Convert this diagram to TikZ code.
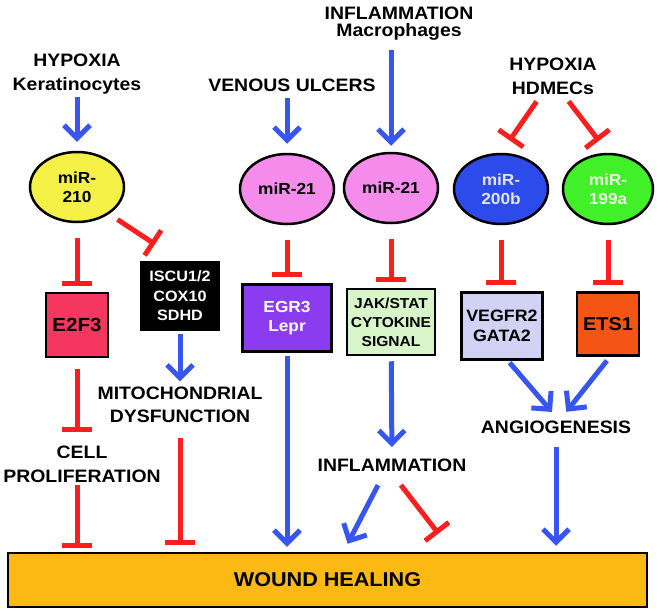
\documentclass[tikz,border=0pt]{standalone}
\usepackage{fontspec}
\setmainfont{Liberation Sans}[FakeStretch=1.08]
\usepackage[]{color}
\usepackage{tikz}
\usetikzlibrary{decorations,arrows,shapes,arrows.meta}

\definecolor{hblue}{RGB}{55,85,240}
\definecolor{hred}{RGB}{255,30,30}
\definecolor{cyellow}{RGB}{245,240,70}
\definecolor{cpink}{RGB}{245,140,235}
\definecolor{cblue}{RGB}{45,75,235}
\definecolor{cgreen}{RGB}{65,240,40}
\definecolor{ce2f}{RGB}{245,55,95}
\definecolor{cegr}{RGB}{140,60,240}
\definecolor{cjak}{RGB}{215,245,200}
\definecolor{cveg}{RGB}{210,210,245}
\definecolor{cets}{RGB}{245,85,20}
\definecolor{cwound}{RGB}{253,185,19}

\begin{document}
\begin{tikzpicture}[
  lbl/.style={align=center,inner sep=2bp,font=\bfseries\fontsize{18bp}{24bp}\selectfont},
  mir/.style={draw,ellipse,line width=2.5bp,minimum width=94bp,minimum height=70bp,inner sep=0pt,align=center,font=\bfseries\fontsize{16bp}{19bp}\selectfont},
  gene/.style={draw,line width=2.5bp,inner sep=0pt,align=center},
  act/.style={draw=hblue,line width=5bp,-{Straight Barb[length=13bp,width=26bp]}},
  inh/.style={draw=hred,line width=5bp,-{Bar[width=30bp]}}
]
\useasboundingbox (0bp,0bp) rectangle (660bp,-613bp);

\node (infl) at (399bp,-24bp)[lbl,font=\bfseries\fontsize{18bp}{17bp}\selectfont] {INFLAMMATION\\Macrophages};
\node (hypK) at (77bp,-74bp)[lbl] {HYPOXIA\\Keratinocytes};
\node (venous) at (292bp,-85bp)[lbl] {VENOUS ULCERS};
\node (hypH) at (553bp,-76bp)[lbl] {HYPOXIA\\HDMECs};

\node (m210) at (77bp,-187bp)[mir,fill=cyellow] {miR-\\210};
\node (m21a) at (287bp,-189bp)[mir,fill=cpink] {miR-21};
\node (m21b) at (391bp,-188bp)[mir,fill=cpink] {miR-21};
\node (m200b) at (501bp,-189bp)[mir,fill=cblue,text={rgb,255:red,225;green,230;blue,255}] {miR-\\200b};
\node (m199a) at (608bp,-189bp)[mir,fill=cgreen,minimum width=90bp,text={rgb,255:red,235;green,255;blue,225}] {miR-\\199a};

\node (e2f3) at (77bp,-325bp)[gene,fill=ce2f,minimum width=62bp,minimum height=64bp,font=\bfseries\fontsize{19bp}{22bp}\selectfont] {E2F3};
\node (iscu) at (180bp,-296bp)[gene,fill=black,text=white,minimum width=78bp,minimum height=68bp,font=\bfseries\fontsize{15bp}{19.5bp}\selectfont] {ISCU1/2\\COX10\\SDHD};
\node (egr3) at (287bp,-318bp)[gene,fill=cegr,text=white,minimum width=89bp,minimum height=67bp,font=\bfseries\fontsize{16bp}{19bp}\selectfont] {EGR3\\Lepr};
\node (jak) at (391bp,-322bp)[gene,fill=cjak,minimum width=88bp,minimum height=66bp,font=\bfseries\fontsize{14.4bp}{19bp}\selectfont] {JAK/STAT\\CYTOKINE\\SIGNAL};
\node (vegf) at (502bp,-326bp)[gene,fill=cveg,minimum width=81bp,minimum height=67bp,font=\bfseries\fontsize{16.5bp}{20bp}\selectfont] {VEGFR2\\GATA2};
\node (ets1) at (608bp,-324bp)[gene,fill=cets,minimum width=62bp,minimum height=63bp,font=\bfseries\fontsize{18.5bp}{22bp}\selectfont] {ETS1};

\node (mito) at (180bp,-405bp)[lbl,font=\bfseries\fontsize{18bp}{23bp}\selectfont] {MITOCHONDRIAL\\DYSFUNCTION};
\node (cellp) at (82bp,-464bp)[lbl] {CELL\\PROLIFERATION};
\node (inflB) at (392bp,-465bp)[lbl] {INFLAMMATION};
\node (angio) at (556bp,-427bp)[lbl] {ANGIOGENESIS};

\node (wound) at (327.5bp,-580bp)[gene,fill=cwound,minimum width=639bp,minimum height=54bp,font=\bfseries\fontsize{20bp}{24bp}\selectfont] {WOUND HEALING};

\draw [act,shorten <=1bp,shorten >=9bp] (hypK) to (m210);
\draw [act,shorten <=4.5bp,shorten >=9bp] (venous.south -| m21a) to (m21a);
\draw [act,shorten <=7bp,shorten >=6bp] (infl.south -| m21b) to (m21b);
\draw [inh,shorten <=6bp,shorten >=15bp] ([xshift=-13bp]hypH.south) to (m200b.north);
\draw [inh,shorten <=6bp,shorten >=15bp] ([xshift=12bp]hypH.south) to (m199a.north);

\draw [inh,shorten <=15bp,shorten >=6bp] (m210) to (e2f3);
\draw [inh,shorten <=10bp,shorten >=30bp] (m210.-40) to (iscu.north);
\draw [inh,shorten <=15bp,shorten >=6bp] (m21a) to (egr3);
\draw [inh,shorten <=15bp,shorten >=6bp] (m21b) to (jak);
\draw [inh,shorten <=15bp,shorten >=6bp] (m200b) to (m200b |- vegf.north);
\draw [inh,shorten <=15bp,shorten >=6bp] (m199a) to (ets1);

\draw [act,shorten <=3bp,shorten >=3.5bp] (iscu) to (mito);
\draw [inh,shorten <=11bp,shorten >=11bp] (e2f3) to (e2f3 |- cellp.north);
\draw [inh,shorten >=4bp] (cellp.south -| e2f3) to (e2f3 |- wound.north);
\draw [inh,shorten <=13bp,shorten >=6.5bp] (mito) to (mito |- wound.north);
\draw [act,shorten <=3bp,shorten >=5bp] (egr3) to (egr3 |- wound.north);
\draw [act,shorten <=5bp,shorten >=9.5bp] (jak) to (inflB);
\draw [act,shorten <=13bp,shorten >=9bp] ([xshift=-8bp]inflB.south) to ([xshift=16bp]wound.north);
\draw [inh,shorten <=14.5bp,shorten >=23bp] (inflB.south) to ([xshift=125bp]wound.north);
\draw [act,shorten <=2.5bp,shorten >=8.5bp] ([xshift=6bp]vegf.south) to ([xshift=1.5bp]angio.north);
\draw [act,shorten <=5bp,shorten >=8.5bp] ([xshift=2bp]ets1.south) to ([xshift=5bp]angio.north);
\draw [act,shorten <=11bp,shorten >=6bp] (angio) to (angio |- wound.north);
\end{tikzpicture}
\end{document}
